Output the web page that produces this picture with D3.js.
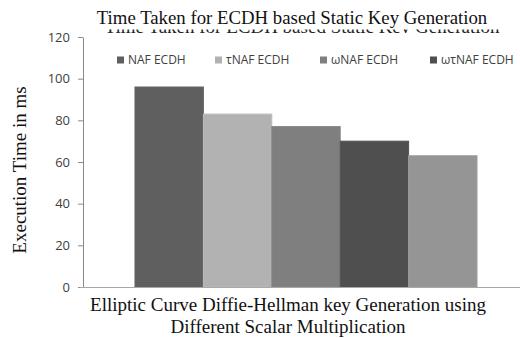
<!DOCTYPE html>
<html>
<head>
<meta charset="utf-8">
<script src="https://cdn.jsdelivr.net/npm/d3@7"></script>
<style>
  body { margin: 0; background: #fff; }
</style>
</head>
<body>
<svg id="chart"></svg>
<script>
// data
var series = ["NAF ECDH", "\u03c4NAF ECDH", "\u03c9NAF ECDH", "\u03c9\u03c4NAF ECDH", "other"];
var times = [96, 83, 77, 70, 63];
var colours = ["#5f5f5f", "#b2b2b2", "#7f7f7f", "#4f4f4f", "#959595"];
var legendNames = ["NAF ECDH", "\u03c4NAF ECDH", "\u03c9NAF ECDH", "\u03c9\u03c4NAF ECDH"];
var yTicks = [0, 20, 40, 60, 80, 100, 120];

var dimensions = {
    width: 520,
    height: 338,
    margin: { top: 37, right: -9, bottom: 51, left: 83 }
};

var svg = d3.select("#chart")
    .attr("width", dimensions.width)
    .attr("height", dimensions.height);

var serif = "'Liberation Serif', 'Times New Roman', serif";
var sans = "'Open Sans', 'Liberation Sans', sans-serif";

var yScale = d3.scaleLinear()
    .domain([0, 120])
    .range([dimensions.height - dimensions.margin.bottom, dimensions.margin.top]);

// the group sits in one band, bars are split inside it
var xScale = d3.scaleBand()
    .domain(["g"])
    .range([dimensions.margin.left, dimensions.width - dimensions.margin.right])
    .paddingInner(0)
    .paddingOuter(0.152);

var inner = d3.scaleBand()
    .domain(series)
    .range([xScale("g"), xScale("g") + xScale.bandwidth()]);

// y axis
var yAxis = svg.append("g")
    .attr("transform", `translate(${dimensions.margin.left},0)`)
    .call(d3.axisLeft(yScale).tickValues(yTicks).tickSize(5).tickSizeOuter(0));
yAxis.select(".domain").attr("stroke", "#8a8a8a");
yAxis.selectAll("line").attr("stroke", "#8a8a8a");
yAxis.selectAll("text")
    .attr("fill", "#404040")
    .attr("font-family", sans)
    .attr("font-size", "13px")
    .attr("x", -13);

// bars
svg.selectAll("rect.bar")
    .data(times)
    .enter()
    .append("rect")
    .attr("class", "bar")
    .attr("x", (d, i) => inner(series[i]))
    .attr("y", d => yScale(d))
    .attr("width", inner.bandwidth())
    .attr("height", d => yScale(0) - yScale(d))
    .attr("fill", (d, i) => colours[i])
    .attr("stroke", (d, i) => d3.color(colours[i]).brighter(0.15))
    .attr("stroke-width", 1);

// x axis line
svg.append("line")
    .attr("x1", dimensions.margin.left - 3)
    .attr("x2", dimensions.width)
    .attr("y1", yScale(0) + 0.5)
    .attr("y2", yScale(0) + 0.5)
    .attr("stroke", "#a8a8a8");

// legend
var legendX = [117, 215, 320, 430];
var legend = svg.selectAll("g.leg")
    .data(legendNames)
    .enter()
    .append("g")
    .attr("class", "leg")
    .attr("transform", (d, i) => `translate(${legendX[i]},60)`);
legend.append("rect")
    .attr("x", 0).attr("y", -3.5)
    .attr("width", 7).attr("height", 7)
    .attr("fill", (d, i) => colours[i]);
legend.append("text")
    .attr("x", 11)
    .attr("dy", "0.36em")
    .attr("font-family", sans)
    .attr("font-size", "12px")
    .attr("fill", "#404040")
    .text(d => d);

// title, plus the clipped ghost copy beneath it
svg.append("clipPath").attr("id", "ghost")
    .append("rect").attr("x", 0).attr("y", 29.5).attr("width", 520).attr("height", 3.5);
svg.append("text")
    .attr("clip-path", "url(#ghost)")
    .attr("x", 302)
    .attr("y", 33)
    .attr("text-anchor", "middle")
    .attr("font-family", serif)
    .attr("font-size", "19px")
    .attr("fill", "#222")
    .text("Time Taken for ECDH based Static Key Generation");

svg.append("text")
    .attr("x", 292)
    .attr("y", 23.5)
    .attr("text-anchor", "middle")
    .attr("font-family", serif)
    .attr("font-size", "18.8px")
    .attr("fill", "#111")
    .text("Time Taken for ECDH based Static Key Generation");

// axis titles
svg.append("text")
    .attr("transform", "translate(26,170)rotate(-90)")
    .attr("text-anchor", "middle")
    .attr("font-family", serif)
    .attr("font-size", "19px")
    .attr("fill", "#111")
    .text("Execution Time in ms");

var xTitle = svg.append("text")
    .attr("text-anchor", "middle")
    .attr("font-family", serif)
    .attr("font-size", "19px")
    .attr("fill", "#111");
xTitle.append("tspan").attr("x", 288).attr("y", 311)
    .text("Elliptic Curve Diffie-Hellman key Generation using");
xTitle.append("tspan").attr("x", 288).attr("y", 333)
    .text("Different Scalar Multiplication");
</script>
</body>
</html>
